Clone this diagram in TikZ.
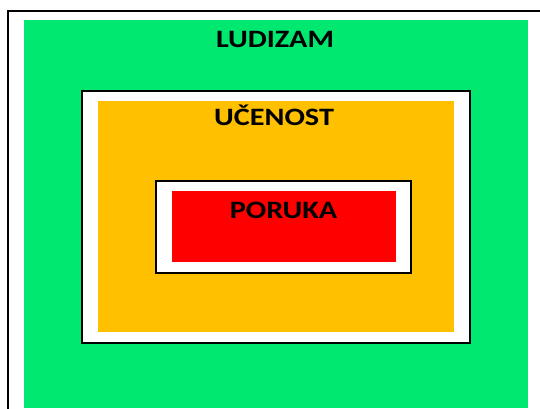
\documentclass[tikz,border=0pt]{standalone}
\usepackage{fontspec}
\setmainfont{Carlito}
\definecolor{ludgreen}{RGB}{0,232,112}
\definecolor{ucgold}{RGB}{255,192,0}
\definecolor{porred}{RGB}{255,0,0}
\newcommand{\widetitle}[1]{\scalebox{1.21}[1]{#1}}
\tikzset{
  frameline/.style={draw=black, line width=2pt},
  boxtitle/.style={anchor=base, inner sep=0pt, font=\fontsize{25}{30}\selectfont\bfseries, text=black}
}
\begin{document}
\begin{tikzpicture}[x=1pt,y=-1pt]
\useasboundingbox (0,0) rectangle (540,408);
\clip (0,0) rectangle (540,408);
\draw[frameline] (8,10.5) rectangle (560,430);
\fill[ludgreen] (24,20) rectangle (528,408);
\draw[frameline, fill=white] (82,91) rectangle (470,343);
\fill[ucgold] (98,101) rectangle (454,332);
\draw[frameline, fill=white] (156,181) rectangle (411,273);
\fill[porred] (172,191) rectangle (396,262);
\node[boxtitle] (ludizam) at (275,47) {\widetitle{LUDIZAM}};
\node[boxtitle] (ucenost) at (274,125) {\widetitle{UČENOST}};
\node[boxtitle] (poruka) at (283.5,218) {\widetitle{PORUKA}};
\end{tikzpicture}
\end{document}
